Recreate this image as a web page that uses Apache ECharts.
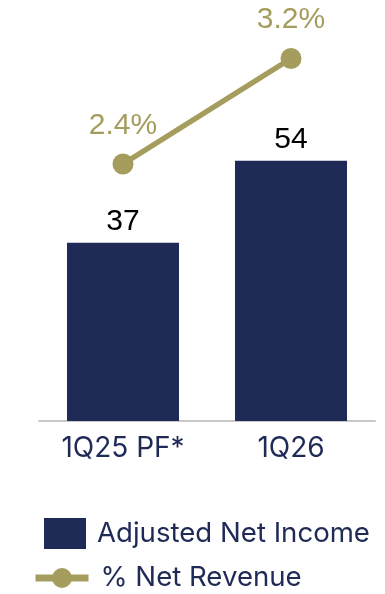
<!DOCTYPE html>
<html><head><meta charset="utf-8">
<script src="https://cdn.jsdelivr.net/npm/echarts@6/dist/echarts.min.js"></script>
<style>html,body{margin:0;padding:0;background:#fff}#c{width:385px;height:594px}</style>
</head><body><div id="c"></div>
<script>
const categories = ['1Q25 PF*', '1Q26'];
const adjustedNetIncome = [37, 54];
const pctNetRevenue = [2.4, 3.2];
const seriesNames = ['Adjusted Net Income', '% Net Revenue'];

const navy = '#1F2A56';
const gold = '#A59D5E';
const chart = echarts.init(document.getElementById('c'));
chart.setOption({
  animation: false,
  grid: { left: 39, right: 10, top: 20, bottom: 173 },
  xAxis: {
    type: 'category', data: categories,
    axisLine: { lineStyle: { color: '#C8C8C8', width: 2 } },
    axisTick: { show: false },
    axisLabel: { color: navy, fontFamily: 'Inter', fontSize: 28, margin: 14 }
  },
  yAxis: [
    { type: 'value', min: 0, max: 83.2, show: false, splitLine: { show: false } },
    { type: 'value', min: 0.452, max: 3.492, show: false, splitLine: { show: false } }
  ],
  legend: [
    {
      data: [seriesNames[0]], orient: 'vertical', left: 44, top: 518, padding: 0,
      itemWidth: 42, itemHeight: 31, icon: 'rect',
      textStyle: { color: navy, fontFamily: 'Inter', fontSize: 27.6, padding: [0, 0, 0, 6] }
    },
    {
      data: [seriesNames[1]], orient: 'vertical', left: 32, top: 564, padding: 0,
      itemWidth: 53, itemHeight: 25,
      lineStyle: { width: 7 },
      textStyle: { color: navy, fontFamily: 'Inter', fontSize: 27.6, padding: [0, 0, 0, 7] }
    }
  ],
  series: [
    {
      name: seriesNames[0], type: 'bar', data: adjustedNetIncome, barWidth: 112,
      itemStyle: { color: navy },
      label: { show: true, position: 'top', distance: 6, color: '#000',
               fontFamily: 'Liberation Sans', fontSize: 30 }
    },
    {
      name: seriesNames[1], type: 'line', yAxisIndex: 1, data: pctNetRevenue,
      symbol: 'circle', symbolSize: 21,
      lineStyle: { color: gold, width: 5.5 }, itemStyle: { color: gold },
      label: { show: true, position: 'top', distance: 13, color: gold,
               fontFamily: 'Liberation Sans', fontSize: 30,
               formatter: p => p.value.toFixed(1) + '%' }
    }
  ]
});
</script></body></html>
